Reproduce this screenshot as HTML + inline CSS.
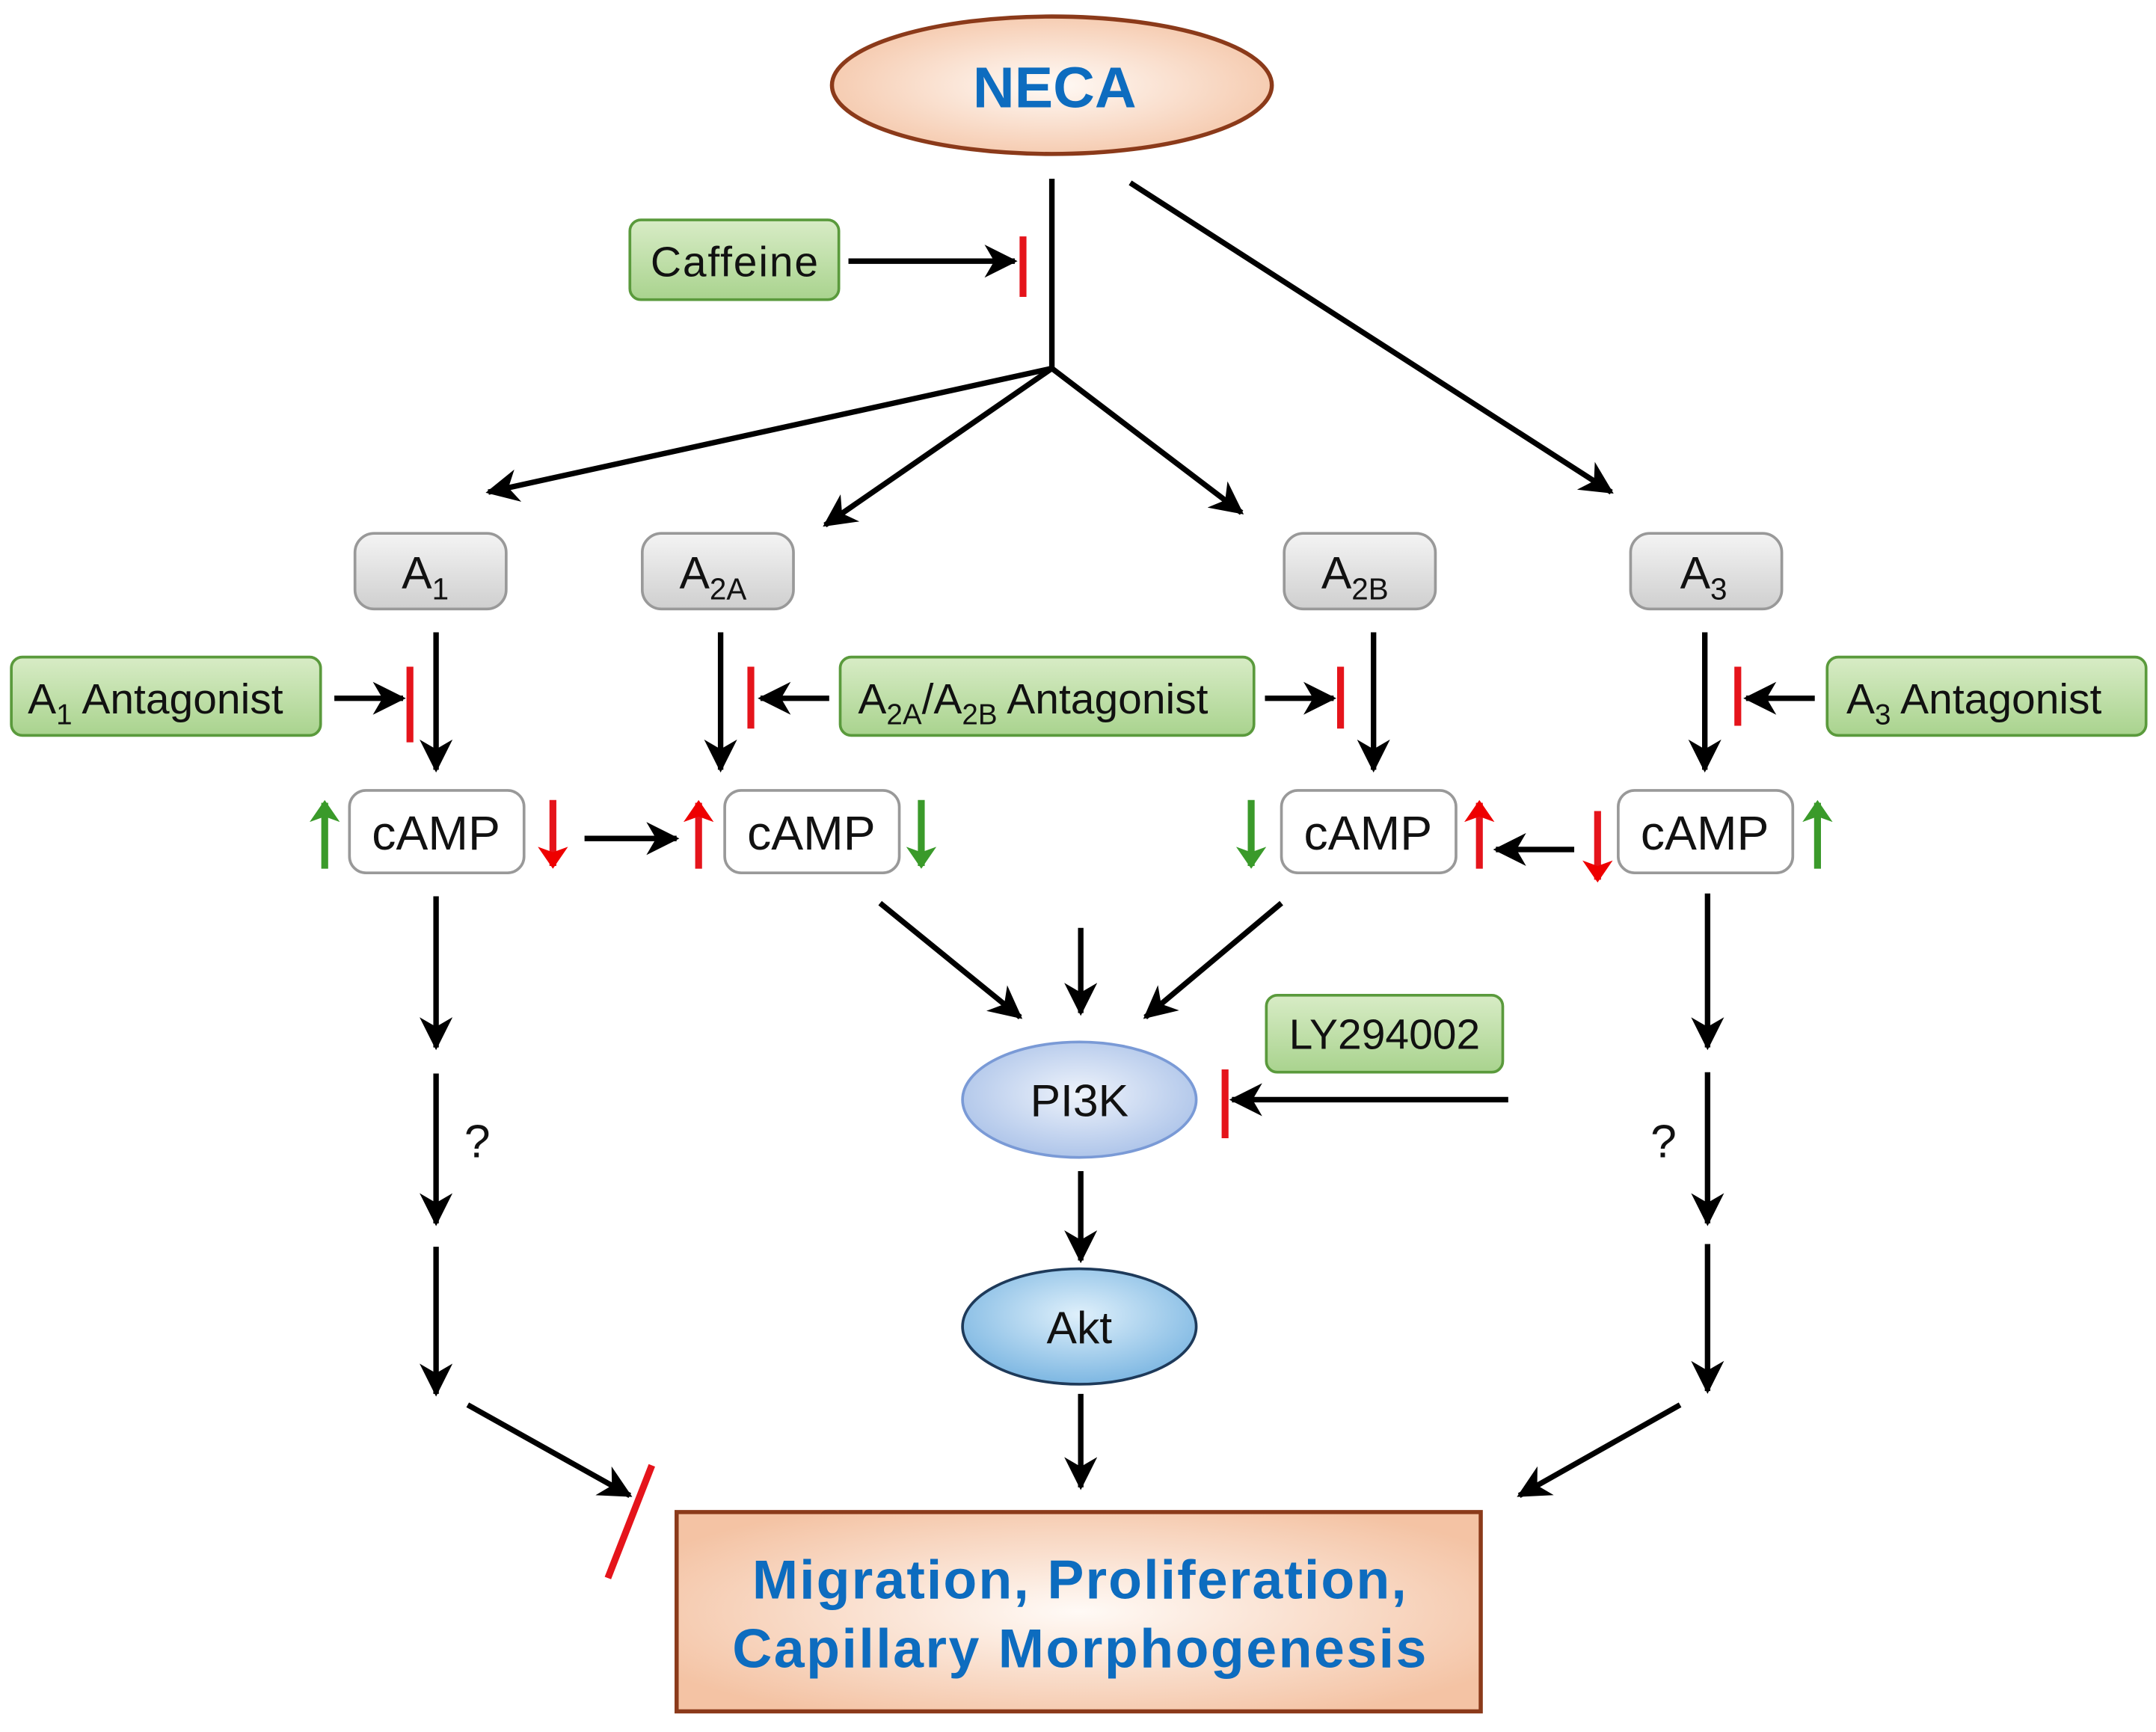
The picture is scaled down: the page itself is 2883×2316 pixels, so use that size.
<!DOCTYPE html>
<html><head><style>html,body{margin:0;padding:0;background:#fff}svg{display:block}</style></head>
<body>
<svg width="2883" height="2316" viewBox="0 0 1568 1260" xmlns="http://www.w3.org/2000/svg" font-family="Liberation Sans, sans-serif">
<defs>
<radialGradient id="peach" cx="50%" cy="50%" r="60%"><stop offset="0" stop-color="#fffaf6"/><stop offset="1" stop-color="#f4c3a4"/></radialGradient>
<linearGradient id="gray" x1="0" y1="0" x2="0" y2="1"><stop offset="0" stop-color="#f4f4f4"/><stop offset="1" stop-color="#cfcfcf"/></linearGradient>
<linearGradient id="green" x1="0" y1="0" x2="0" y2="1"><stop offset="0" stop-color="#d8ecc6"/><stop offset="1" stop-color="#a9d38e"/></linearGradient>
<radialGradient id="blue1" cx="50%" cy="45%" r="60%"><stop offset="0" stop-color="#eef3fb"/><stop offset="1" stop-color="#a9c1e8"/></radialGradient>
<radialGradient id="blue2" cx="50%" cy="40%" r="60%"><stop offset="0" stop-color="#dff0fb"/><stop offset="1" stop-color="#7db7e2"/></radialGradient>
<marker id="ahb" markerWidth="24" markerHeight="24" refX="22" refY="12" orient="auto" markerUnits="userSpaceOnUse" viewBox="0 0 24 24"><path d="M0,0 L24,12 L0,24 L7,12 Z" fill="#000"/></marker>
<marker id="ahr" markerWidth="16" markerHeight="24" refX="14" refY="12" orient="auto" markerUnits="userSpaceOnUse" viewBox="0 0 16 24"><path d="M0,1 L16,12 L0,23 L4,12 Z" fill="#e00"/></marker>
<marker id="ahg" markerWidth="16" markerHeight="24" refX="14" refY="12" orient="auto" markerUnits="userSpaceOnUse" viewBox="0 0 16 24"><path d="M0,1 L16,12 L0,23 L4,12 Z" fill="#3a9a2a"/></marker>
</defs>

<ellipse cx="765" cy="62" rx="160" ry="50" fill="url(#peach)" stroke="#8b3a1a" stroke-width="3"/>
<text x="767" y="78" text-anchor="middle" font-size="42" font-weight="bold" fill="#0d6cbf">NECA</text>

<g stroke="#000" stroke-width="4" fill="none">
<line x1="765" y1="130" x2="765" y2="268"/>
<line x1="617" y1="190" x2="738" y2="190" marker-end="url(#ahb)"/>
<line x1="765" y1="268" x2="355" y2="358" marker-end="url(#ahb)"/>
<line x1="765" y1="268" x2="600" y2="382" marker-end="url(#ahb)"/>
<line x1="765" y1="268" x2="903" y2="373" marker-end="url(#ahb)"/>
<line x1="822" y1="133" x2="1172" y2="358" marker-end="url(#ahb)"/>
<line x1="317" y1="460" x2="317" y2="560" marker-end="url(#ahb)"/>
<line x1="524" y1="460" x2="524" y2="560" marker-end="url(#ahb)"/>
<line x1="999" y1="460" x2="999" y2="560" marker-end="url(#ahb)"/>
<line x1="1240" y1="460" x2="1240" y2="560" marker-end="url(#ahb)"/>
<line x1="243" y1="508" x2="293" y2="508" marker-end="url(#ahb)"/>
<line x1="603" y1="508" x2="553" y2="508" marker-end="url(#ahb)"/>
<line x1="920" y1="508" x2="970" y2="508" marker-end="url(#ahb)"/>
<line x1="1320" y1="508" x2="1270" y2="508" marker-end="url(#ahb)"/>
<line x1="425" y1="610" x2="492" y2="610" marker-end="url(#ahb)"/>
<line x1="1145" y1="618" x2="1088" y2="618" marker-end="url(#ahb)"/>
<line x1="317" y1="652" x2="317" y2="762" marker-end="url(#ahb)"/>
<line x1="317" y1="781" x2="317" y2="890" marker-end="url(#ahb)"/>
<line x1="317" y1="907" x2="317" y2="1014" marker-end="url(#ahb)"/>
<line x1="340" y1="1022" x2="458" y2="1088" marker-end="url(#ahb)"/>
<line x1="1242" y1="650" x2="1242" y2="762" marker-end="url(#ahb)"/>
<line x1="1242" y1="780" x2="1242" y2="890" marker-end="url(#ahb)"/>
<line x1="1242" y1="905" x2="1242" y2="1012" marker-end="url(#ahb)"/>
<line x1="1222" y1="1022" x2="1105" y2="1088" marker-end="url(#ahb)"/>
<line x1="640" y1="657" x2="742" y2="740" marker-end="url(#ahb)"/>
<line x1="786" y1="675" x2="786" y2="737" marker-end="url(#ahb)"/>
<line x1="932" y1="657" x2="833" y2="740" marker-end="url(#ahb)"/>
<line x1="1097" y1="800" x2="896" y2="800" marker-end="url(#ahb)"/>
<line x1="786" y1="852" x2="786" y2="917" marker-end="url(#ahb)"/>
<line x1="786" y1="1014" x2="786" y2="1082" marker-end="url(#ahb)"/>
</g>

<g stroke="#e5141b" stroke-width="5">
<line x1="744" y1="172" x2="744" y2="216"/>
<line x1="298" y1="485" x2="298" y2="540"/>
<line x1="546" y1="485" x2="546" y2="530"/>
<line x1="975" y1="485" x2="975" y2="530"/>
<line x1="1264" y1="485" x2="1264" y2="528"/>
<line x1="891" y1="778" x2="891" y2="828"/>
<line x1="474" y1="1066" x2="442" y2="1148"/>
</g>

<g stroke-width="5">
<line x1="236" y1="632" x2="236" y2="584" stroke="#3a9a2a" marker-end="url(#ahg)"/>
<line x1="402" y1="582" x2="402" y2="630" stroke="#e5141b" marker-end="url(#ahr)"/>
<line x1="508" y1="632" x2="508" y2="584" stroke="#e5141b" marker-end="url(#ahr)"/>
<line x1="670" y1="582" x2="670" y2="630" stroke="#3a9a2a" marker-end="url(#ahg)"/>
<line x1="910" y1="582" x2="910" y2="630" stroke="#3a9a2a" marker-end="url(#ahg)"/>
<line x1="1076" y1="632" x2="1076" y2="584" stroke="#e5141b" marker-end="url(#ahr)"/>
<line x1="1162" y1="590" x2="1162" y2="640" stroke="#e5141b" marker-end="url(#ahr)"/>
<line x1="1322" y1="632" x2="1322" y2="584" stroke="#3a9a2a" marker-end="url(#ahg)"/>
</g>

<g fill="url(#green)" stroke="#5a9a3c" stroke-width="2">
<rect x="458" y="160" width="152" height="58" rx="8"/>
<rect x="8" y="478" width="225" height="57" rx="8"/>
<rect x="611" y="478" width="301" height="57" rx="8"/>
<rect x="1329" y="478" width="232" height="57" rx="8"/>
<rect x="921" y="724" width="172" height="56" rx="8"/>
</g>
<g font-size="31" fill="#111">
<text x="534" y="201" text-anchor="middle" textLength="122">Caffeine</text>
<text x="20" y="519">A<tspan font-size="21" dy="8">1</tspan><tspan dy="-8"> Antagonist</tspan></text>
<text x="624" y="519">A<tspan font-size="21" dy="8">2A</tspan><tspan dy="-8">/A</tspan><tspan font-size="21" dy="8">2B</tspan><tspan dy="-8"> Antagonist</tspan></text>
<text x="1343" y="519">A<tspan font-size="21" dy="8">3</tspan><tspan dy="-8"> Antagonist</tspan></text>
<text x="1007" y="763" text-anchor="middle">LY294002</text>
</g>

<g fill="url(#gray)" stroke="#999" stroke-width="2">
<rect x="258" y="388" width="110" height="55" rx="14"/>
<rect x="467" y="388" width="110" height="55" rx="14"/>
<rect x="934" y="388" width="110" height="55" rx="14"/>
<rect x="1186" y="388" width="110" height="55" rx="14"/>
</g>
<g font-size="33" fill="#111">
<text x="292" y="428">A<tspan font-size="22" dy="8">1</tspan></text>
<text x="494" y="428">A<tspan font-size="22" dy="8">2A</tspan></text>
<text x="961" y="428">A<tspan font-size="22" dy="8">2B</tspan></text>
<text x="1222" y="428">A<tspan font-size="22" dy="8">3</tspan></text>
</g>

<g fill="#fff" stroke="#999" stroke-width="2">
<rect x="254" y="575" width="127" height="60" rx="12"/>
<rect x="527" y="575" width="127" height="60" rx="12"/>
<rect x="932" y="575" width="127" height="60" rx="12"/>
<rect x="1177" y="575" width="127" height="60" rx="12"/>
</g>
<g font-size="35" fill="#111" text-anchor="middle">
<text x="317" y="618">cAMP</text>
<text x="590" y="618">cAMP</text>
<text x="995" y="618">cAMP</text>
<text x="1240" y="618">cAMP</text>
</g>

<text x="347" y="842" font-size="34" fill="#111" text-anchor="middle">?</text>
<text x="1210" y="842" font-size="34" fill="#111" text-anchor="middle">?</text>

<ellipse cx="785" cy="800" rx="85" ry="42" fill="url(#blue1)" stroke="#7a9ad6" stroke-width="2"/>
<text x="785" y="812" font-size="33" fill="#111" text-anchor="middle">PI3K</text>
<ellipse cx="785" cy="965" rx="85" ry="42" fill="url(#blue2)" stroke="#1e3a5a" stroke-width="2"/>
<text x="785" y="977" font-size="33" fill="#111" text-anchor="middle">Akt</text>

<rect x="492" y="1100" width="585" height="145" fill="url(#peach)" stroke="#8b3a1a" stroke-width="3"/>
<g font-size="40" font-weight="bold" fill="#0d6cbf" text-anchor="middle">
<text x="785" y="1163" textLength="476">Migration, Proliferation,</text>
<text x="785" y="1213" textLength="505">Capillary Morphogenesis</text>
</g>
</svg>
</body></html>
